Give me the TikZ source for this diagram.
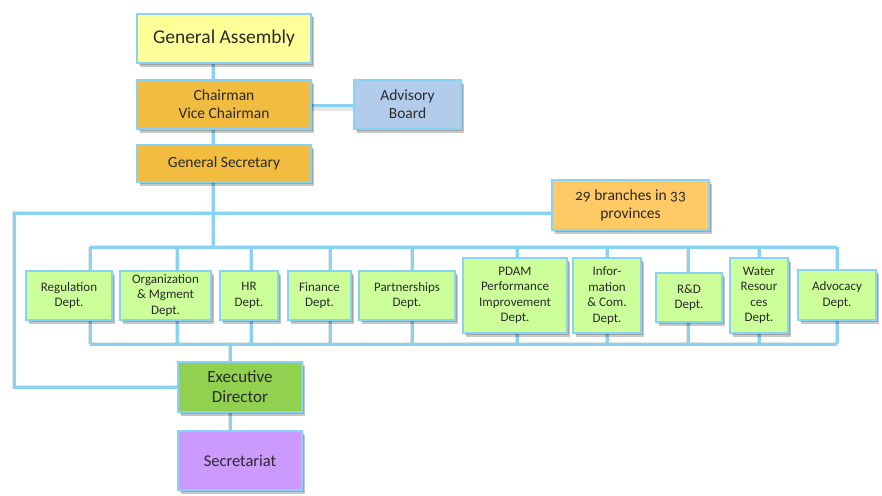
\documentclass[tikz,border=0pt]{standalone}
\usepackage{fontspec}
\setmainfont{Carlito}[Numbers=OldStyle]
\usetikzlibrary{shadows}
\definecolor{lineblue}{HTML}{88D2F4}
\definecolor{gaY}{HTML}{FFFF99}
\definecolor{orgO}{HTML}{F2BC40}
\definecolor{advB}{HTML}{B3CCEC}
\definecolor{brO}{HTML}{FFC966}
\definecolor{depG}{HTML}{CCFF99}
\definecolor{edG}{HTML}{92D050}
\definecolor{secP}{HTML}{CC99FF}
\definecolor{txt}{HTML}{2A2A2A}
\pgfdeclarelayer{back}
\pgfdeclarelayer{bg}
\pgfsetlayers{back,bg,main}
\tikzset{
  box/.style={draw=lineblue, line width=2pt, inner sep=0pt, align=center, text=txt,
    general shadow={shadow xshift=3pt, shadow yshift=-3.5pt, opacity=.22, fill=black},
    general shadow={shadow xshift=1.8pt, shadow yshift=-2pt, opacity=.18, fill=black}},
  dept/.style={box, fill=depG, font=\fontsize{13}{15.5}\selectfont},
  conn/.style={draw=lineblue, line width=3pt},
  connshadow/.style={draw=black, opacity=.10, line width=4pt},
}
\begin{document}
\begin{tikzpicture}[x=1pt,y=-1pt]
\useasboundingbox (0,0) rectangle (882,495);
\begin{pgfonlayer}{back}
\fill[white] (0,0) rectangle (882,495);
\end{pgfonlayer}
% top nodes
\node[box, fill=gaY, minimum width=174pt, minimum height=49pt, font=\fontsize{19.5}{23}\selectfont] (GA) at (224,38.5) {General Assembly};
\node[box, fill=orgO, minimum width=174pt, minimum height=49pt, font=\fontsize{15.5}{18}\selectfont] (CH) at (224,104.5) {Chairman\\Vice Chairman};
\node[box, fill=advB, minimum width=107pt, minimum height=49pt, font=\fontsize{15.5}{18}\selectfont] (AB) at (407.5,104.5) {Advisory\\Board};
\node[box, fill=orgO, minimum width=174pt, minimum height=37pt, font=\fontsize{15.5}{18}\selectfont] (GS) at (224,163.5) {General Secretary};
\node[box, fill=brO, minimum width=157pt, minimum height=50pt, font=\fontsize{15.5}{18}\selectfont] (BR) at (630.5,205) {29 branches in 33\\provinces};
\node[box, fill=edG, minimum width=124pt, minimum height=50pt, font=\fontsize{17}{20}\selectfont] (ED) at (240,387) {Executive\\Director};
\node[box, fill=secP, minimum width=124pt, minimum height=59pt, font=\fontsize{16.5}{20}\selectfont] (SC) at (240,460.5) {Secretariat};
% departments
\node[dept, minimum width=86pt, minimum height=49pt] (REG) at (69,295.5) {Regulation\\Dept.};
\node[dept, minimum width=91pt, minimum height=49pt] (ORG) at (165.5,295.5) {Organization\\\&{} Mgment\\Dept.};
\node[dept, minimum width=58pt, minimum height=49pt] (HR) at (249,295.5) {HR\\Dept.};
\node[dept, minimum width=63pt, minimum height=49pt] (FIN) at (319.5,295.5) {Finance\\Dept.};
\node[dept, minimum width=96pt, minimum height=49pt] (PAR) at (407,295.5) {Partnerships\\Dept.};
\node[dept, minimum width=104pt, minimum height=75pt] (PDAM) at (515,295.5) {PDAM\\Performance\\Improvement\\Dept.};
\node[dept, minimum width=68pt, minimum height=75pt] (INF) at (607,295.5) {Infor-\\mation\\\&{} Com.\\Dept.};
\node[dept, minimum width=66pt, minimum height=49pt] (RD) at (689,297.5) {R\&D\\Dept.};
\node[dept, minimum width=58pt, minimum height=75pt] (WAT) at (759,295.5) {Water\\Resour\\ces\\Dept.};
\node[dept, minimum width=78pt, minimum height=50pt] (ADV) at (837,295) {Advocacy\\Dept.};
% coordinates for connectors
\coordinate (mx) at (213,0);
\coordinate (ex) at (230,0);
\coordinate (lx) at (14,213);
\coordinate (busT) at (0,247);
\coordinate (busB) at (0,344);
\coordinate (dREG) at (90,0);
\coordinate (dORG) at (177,0);
\coordinate (dHR) at (251,0);
\coordinate (dFIN) at (330,0);
\coordinate (dPAR) at (412,0);
\coordinate (dPDAM) at (517,0);
\coordinate (dINF) at (607,0);
\coordinate (dRD) at (688,0);
\coordinate (dWAT) at (759,0);
\coordinate (dADV) at (837,0);
\newcommand{\orgconnectors}[1]{%
  \draw[#1] (GA.south -| mx) -- (CH.north -| mx);
  \draw[#1] (CH.south -| mx) -- (GS.north -| mx);
  \draw[#1] (CH.east |- 0,105) -- (AB.west |- 0,105);
  \draw[#1] (GS.south -| mx) -- (busT -| mx);
  \draw[#1] (BR.west |- lx) -- (lx) -- (lx |- ED.west) -- (ED.west);
  \draw[#1] (busT -| dREG) -- (busT -| dADV);
  \draw[#1] (busB -| dREG) -- (busB -| dADV);
  \foreach \d in {REG,ORG,HR,FIN,PAR,PDAM,INF,RD,WAT,ADV}{
    \draw[#1] (busT -| d\d) -- (\d.north -| d\d);
    \draw[#1] (\d.south -| d\d) -- (busB -| d\d);
  }
  \draw[#1] (busB -| ex) -- (ED.north -| ex);
  \draw[#1] (ED.south -| ex) -- (SC.north -| ex);
}
\begin{pgfonlayer}{bg}
  \begin{scope}[xshift=3pt, yshift=-4pt]
    \orgconnectors{connshadow}
  \end{scope}
  \orgconnectors{conn}
\end{pgfonlayer}
\end{tikzpicture}
\end{document}
